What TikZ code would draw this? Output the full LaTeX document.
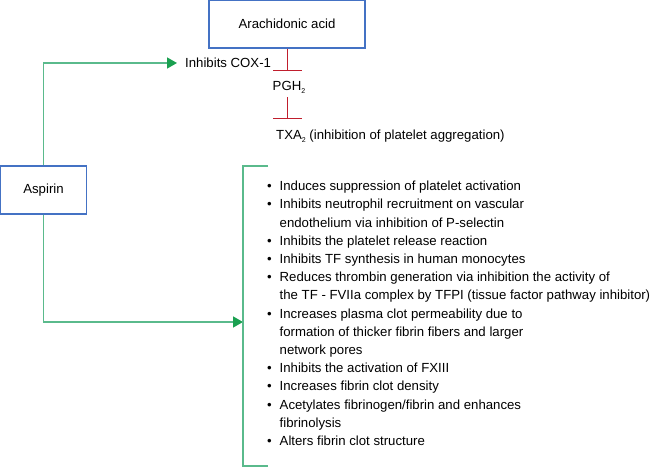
\documentclass[tikz,border=0pt]{standalone}
\usepackage{fontspec}
\setmainfont{Liberation Sans}
\usetikzlibrary{arrows.meta}
\definecolor{boxblue}{RGB}{68,114,196}
\definecolor{inhred}{RGB}{192,30,45}
\definecolor{lngreen}{RGB}{90,186,140}
\definecolor{tipgreen}{RGB}{26,160,80}
\newcommand{\bul}       {\llap{\textbullet\hspace{8pt}}}
\newcommand{\sub}[1]    {\raisebox{-3pt}{\fontsize{7}{7}\selectfont#1}}

\begin{document}
\begin{tikzpicture}[x=1pt,y=-1pt,
   every node/.style={font=\fontsize{13.2}{18.2}\selectfont,inner sep=0pt},
   blk/.style={draw=boxblue,line width=1.4pt,minimum height=48pt},
   inhib/.style={draw=inhred,line width=1pt,-{Bar[width=29pt]}},
   act/.style={draw=lngreen,line width=1.5pt,-{Triangle[length=10pt,width=11pt,color=tipgreen]}},
   brk/.style={draw=lngreen,line width=1.5pt}]
   \useasboundingbox (0,0) rectangle (653,467);
   \node[blk,minimum width=156pt] (acid) at (287,24) {Arachidonic acid};
   \node[blk,minimum width=86pt] (aspirin) at (43.5,190) {Aspirin};
   \node[anchor=base west] (cox) at (185,67.7) {Inhibits COX-1};
   \node[anchor=base west] (pgh) at (272.5,90.7) {PGH\sub{2}};
   \node[anchor=base west] (txa) at (276,139.7) {TXA\sub{2} (inhibition of platelet aggregation)};
   \coordinate (pghbar) at (287,71);
   \coordinate (txabar) at (287,119);
   \coordinate (pghlow) at (287,97);
   \draw[inhib] (acid.south) -- (pghbar);
   \draw[inhib] (pghlow) -- (txabar);
   \draw[act] (aspirin.north) |- ([xshift=-8pt]cox.west);
   \coordinate (brin) at (243,322);
   \draw[act] (aspirin.south) |- (brin);
   \draw[brk] (268,166) -- (243,166) -- (243,466) -- (268,466);
   \node[anchor=base west,align=left] (effects) at (279.5,445.5) {%
      \bul Induces suppression of platelet activation\\
      \bul Inhibits neutrophil recruitment on vascular\\
      endothelium via inhibition of P-selectin\\
      \bul Inhibits the platelet release reaction\\
      \bul Inhibits TF synthesis in human monocytes\\
      \bul Reduces thrombin generation via inhibition the activity of\\
      the TF - FVIIa complex by TFPI (tissue factor pathway inhibitor)\\
      \bul Increases plasma clot permeability due to\\
      formation of thicker fibrin fibers and larger\\
      network pores\\
      \bul Inhibits the activation of FXIII\\
      \bul Increases fibrin clot density\\
      \bul Acetylates fibrinogen/fibrin and enhances\\
      fibrinolysis\\
      \bul Alters fibrin clot structure};
\end{tikzpicture}
\end{document}
